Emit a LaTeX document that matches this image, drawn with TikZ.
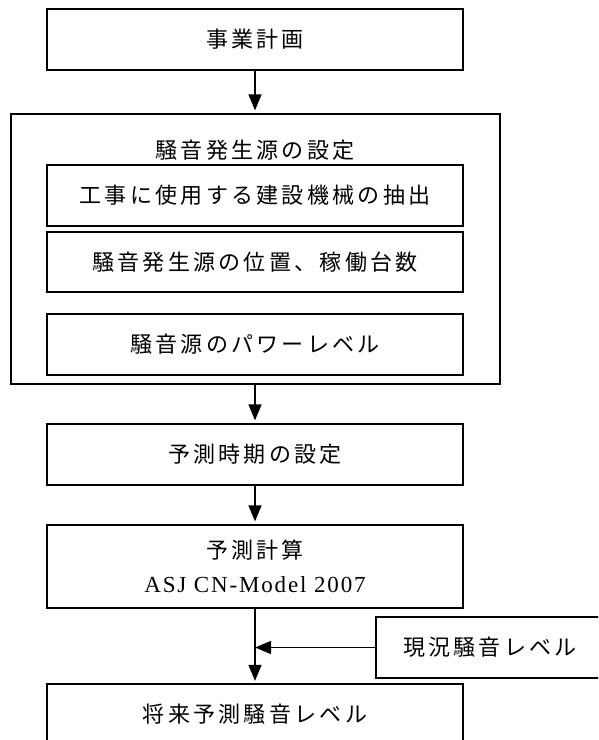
\documentclass[tikz,border=0pt]{standalone}
\usepackage{fontspec}
\setmainfont{Liberation Serif}[LetterSpace=8]
\newfontfamily\jpfont{Noto Sans CJK JP}[LetterSpace=15]
\usetikzlibrary{arrows.meta, positioning}

\begin{document}
\begin{tikzpicture}[x=1pt, y=-1pt,
        every node/.style={font=\jpfont\fontsize{22}{34}\selectfont, align=center, inner sep=0pt},
        box/.style={draw, line width=1.3pt, minimum width=416pt, minimum height=61pt},
        flow/.style={line width=1.3pt, -{Triangle[width=13pt,length=16pt]}, shorten >=3pt}
    ]
    \clip (0,0) rectangle (598,740);
    \node[box] (plan) at (255,39.5) {事業計画};
    \node[draw, line width=1.3pt, minimum width=489pt, minimum height=270pt] (source) at (255.5,249) {};
    \node (sourcetitle) at (255,150) {騒音発生源の設定};
    \node[box] (machines) at (255,195.5) {工事に使用する建設機械の抽出};
    \node[box, minimum height=60pt] (position) at (255,262) {騒音発生源の位置、稼働台数};
    \node[box] (power) at (255,344.5) {騒音源のパワーレベル};
    \node[box] (period) at (255,454.5) {予測時期の設定};
    \node[box, minimum height=83pt] (calc) at (255,566.5) {予測計算\\{\rmfamily\fontsize{23}{34}\selectfont ASJ CN-Model 2007}};
    \node[box, minimum width=228pt] (current) at (490,647.5) {現況騒音レベル};
    \node[box] (future) at (255,714.5) {将来予測騒音レベル};
    \coordinate (merge) at (calc.south |- current.west);
    \draw[flow] (plan) -- (plan.south |- source.north);
    \draw[flow] (source.south -| period.north) -- (period);
    \draw[flow] (period) -- (calc);
    \draw[flow, shorten >=2.5pt] (calc) -- (future);
    \draw[flow, shorten >=0pt] (current) -- (merge);
\end{tikzpicture}
\end{document}
